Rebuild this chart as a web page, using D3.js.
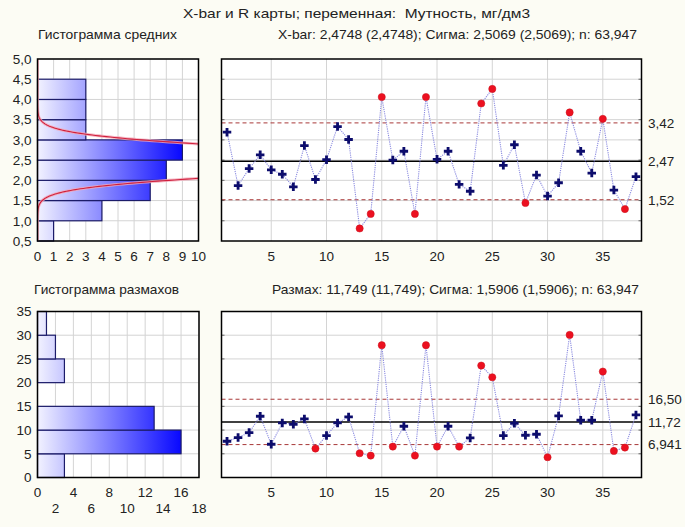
<!DOCTYPE html>
<html><head><meta charset="utf-8">
<script src="https://cdn.jsdelivr.net/npm/d3@7"></script>
<style>
html,body{margin:0;padding:0;background:#fcfcf4;}
svg{display:block;font-family:"Liberation Sans",Arial,sans-serif;}
text{white-space:pre;}
</style></head>
<body>
<svg id="c" width="685" height="527"></svg>
<script>
// ---------- DATA ----------
const sampleNumbers = d3.range(1, 39);
const xbarValues = [3.19,1.87,2.29,2.63,2.26,2.15,1.84,2.86,2.02,2.51,
                    3.33,3.01,0.81,1.17,4.06,2.50,2.72,1.17,4.06,2.52,
                    2.72,1.90,1.73,3.90,4.26,2.37,2.88,1.44,2.13,1.61,
                    1.94,3.68,2.72,2.18,3.52,1.76,1.29,2.09];
const rangeValues = [7.64,8.42,9.47,12.92,7.01,11.51,11.23,12.35,6.10,8.84,
                     11.51,12.77,5.11,4.62,27.89,6.52,10.81,4.62,27.89,6.52,
                     10.81,6.52,8.35,23.60,21.14,8.84,11.44,8.91,9.12,4.27,
                     12.99,30.07,12.07,12.07,22.34,5.60,6.31,13.20];
const xbarLimits = {lcl:1.52, cl:2.4748, ucl:3.42};
const xbarLimitLabels = ["1,52","2,47","3,42"];
const rangeLimits = {lcl:6.941, cl:11.72, ucl:16.50};
const rangeLimitLabels = ["6,941","11,72","16,50"];
const meanBinEdges = [0.5,1.0,1.5,2.0,2.5,3.0,3.5,4.0];
const meanBinCounts = [1,4,7,8,9,3,3,3];
const rangeBinEdges = [0,5,10,15,20,25,30];
const rangeBinCounts = [3,16,13,0,3,2,1];
const meanYTicks = [0.5,1.0,1.5,2.0,2.5,3.0,3.5,4.0,4.5,5.0];
const meanXTicks = [0,1,2,3,4,5,6,7,8,9,10];
const rangeYTicks = [0,5,10,15,20,25,30,35];
const rangeXTicksRow1 = [0,4,8,12,16];
const rangeXTicksRow2 = [2,6,10,14,18];
const sampleTicks = [5,10,15,20,25,30,35];
const normalFit = {mean:2.4748, sigma:0.33, n:38, binWidth:0.5};
const titleText = "X-bar и R карты; переменная:  Мутность, мг/дм3";
const histMeanTitle = "Гистограмма средних";
const histRangeTitle = "Гистограмма размахов";
const xbarStats = "X-bar: 2,4748 (2,4748); Сигма: 2,5069 (2,5069); n: 63,947";
const rangeStats = "Размах: 11,749 (11,749); Сигма: 1,5906 (1,5906); n: 63,947";

// ---------- DRAW ----------
const svg = d3.select("#c");
const fmt = v => String(v).replace(".", ",");
const fmt1 = v => v.toFixed(1).replace(".", ",");
const defs = svg.append("defs");
const GRID = "#d4d4d4";
const TXT = "#222";
const FS = 13.5;

function header(x, y, w, t){
  svg.append("text").attr("x",x).attr("y",y).attr("font-size",FS).attr("fill",TXT)
    .attr("textLength",w).attr("lengthAdjust","spacingAndGlyphs").text(t);
}
header(183, 18, 347, titleText);
header(38, 38.5, 139, histMeanTitle);
header(278, 38.5, 359, xbarStats);
header(34, 293.5, 145, histRangeTitle);
header(272, 293.5, 367, rangeStats);

function histogram(opt){
  const {x0,x1,y0,y1,xDom,yDom,edges,counts,binW,yTicks,yFmt,xGrid,id,gradMax} = opt;
  const x = d3.scaleLinear().domain(xDom).range([x0,x1]);
  const y = d3.scaleLinear().domain(yDom).range([y1,y0]);
  const g = svg.append("g");
  g.append("rect").attr("x",x0).attr("y",y0).attr("width",x1-x0).attr("height",y1-y0).attr("fill","#fff");
  g.selectAll(".vg").data(xGrid).join("line")
    .attr("x1",d=>x(d)).attr("x2",d=>x(d)).attr("y1",y0).attr("y2",y1)
    .attr("stroke",GRID).attr("stroke-width",1);
  g.selectAll(".hg").data(yTicks).join("line")
    .attr("x1",x0).attr("x2",x1).attr("y1",d=>y(d)).attr("y2",d=>y(d))
    .attr("stroke",GRID).attr("stroke-width",1);
  const grad = defs.append("linearGradient").attr("id",id).attr("gradientUnits","userSpaceOnUse")
    .attr("x1",x(0)).attr("x2",x(gradMax)).attr("y1",0).attr("y2",0);
  grad.append("stop").attr("offset","0").attr("stop-color","#f2f2ff");
  grad.append("stop").attr("offset","1").attr("stop-color","#0808ff");
  const bins = edges.map((e,i)=>({lo:e,hi:e+binW,c:counts[i]})).filter(b=>b.c>0);
  g.selectAll(".bar").data(bins).join("rect")
    .attr("x",x(0)).attr("width",d=>x(d.c)-x(0))
    .attr("y",d=>y(d.hi)).attr("height",d=>y(d.lo)-y(d.hi))
    .attr("fill",`url(#${id})`).attr("stroke","#1c1c6a").attr("stroke-width",1.2);
  g.selectAll(".yl").data(yTicks).join("text")
    .attr("x",x0-6).attr("y",d=>y(d)+4.8).attr("text-anchor","end")
    .attr("font-size",FS).attr("fill",TXT).text(yFmt);
  return {g,x,y};
}

// top histogram
const h1 = histogram({x0:37.5,x1:198.5,y0:59,y1:241,xDom:[0,10],yDom:[0.5,5.0],
  edges:meanBinEdges,counts:meanBinCounts,binW:0.5,yTicks:meanYTicks,yFmt:fmt1,
  xGrid:meanXTicks,id:"g1",gradMax:9});
h1.g.selectAll(".xl").data(meanXTicks).join("text")
  .attr("x",d=>h1.x(d)).attr("y",260.5).attr("text-anchor","middle")
  .attr("font-size",FS).attr("fill",TXT).text(d=>d);
defs.append("clipPath").attr("id","clip1").append("rect")
  .attr("x",37.5).attr("y",59).attr("width",161).attr("height",182);
const nf = normalFit;
const curveY = d3.range(0.5, 5.001, 0.01);
const dens = v => nf.n*nf.binWidth/(nf.sigma*Math.sqrt(2*Math.PI))*Math.exp(-((v-nf.mean)**2)/(2*nf.sigma*nf.sigma));
const lineN = d3.line().x(v=>h1.x(dens(v))).y(v=>h1.y(v));
const cg = h1.g.append("g").attr("clip-path","url(#clip1)");
cg.append("path").datum(curveY).attr("d",lineN).attr("fill","none").attr("stroke","#f4a8b8").attr("stroke-width",3).attr("opacity",0.8);
cg.append("path").datum(curveY).attr("d",lineN).attr("fill","none").attr("stroke","#d0203c").attr("stroke-width",1.1);
h1.g.append("rect").attr("x",37.5).attr("y",59).attr("width",161).attr("height",182)
  .attr("fill","none").attr("stroke","#000").attr("stroke-width",1.5);

// bottom histogram
const h2 = histogram({x0:37.5,x1:199,y0:311.5,y1:477.5,xDom:[0,18],yDom:[0,35],
  edges:rangeBinEdges,counts:rangeBinCounts,binW:5,yTicks:rangeYTicks,yFmt:fmt,
  xGrid:d3.range(0,19,2),id:"g2",gradMax:16});
h2.g.selectAll(".xl1").data(rangeXTicksRow1).join("text")
  .attr("x",d=>h2.x(d)).attr("y",496.5).attr("text-anchor","middle")
  .attr("font-size",FS).attr("fill",TXT).text(d=>d);
h2.g.selectAll(".xl2").data(rangeXTicksRow2).join("text")
  .attr("x",d=>h2.x(d)).attr("y",513).attr("text-anchor","middle")
  .attr("font-size",FS).attr("fill",TXT).text(d=>d);
h2.g.append("rect").attr("x",37.5).attr("y",311.5).attr("width",161.5).attr("height",166)
  .attr("fill","none").attr("stroke","#000").attr("stroke-width",1.5);

// control charts
function control(opt){
  const {x0,x1,y0,y1,yDom,yGrid,values,lim,limLabels,xLabelY} = opt;
  const x = d3.scaleLinear().domain([0.5,38.5]).range([x0,x1]);
  const y = d3.scaleLinear().domain(yDom).range([y1,y0]);
  const g = svg.append("g");
  g.append("rect").attr("x",x0).attr("y",y0).attr("width",x1-x0).attr("height",y1-y0).attr("fill","#fff");
  g.selectAll(".vg").data(sampleTicks).join("line")
    .attr("x1",d=>x(d)).attr("x2",d=>x(d)).attr("y1",y0).attr("y2",y1)
    .attr("stroke",GRID);
  g.selectAll(".hg").data(yGrid).join("line")
    .attr("x1",x0).attr("x2",x1).attr("y1",d=>y(d)).attr("y2",d=>y(d))
    .attr("stroke",GRID);
  g.selectAll(".tl").data(yGrid).join("line")
    .attr("x1",x0).attr("x2",x0+3).attr("y1",d=>y(d)).attr("y2",d=>y(d)).attr("stroke","#666");
  g.selectAll(".tr").data(yGrid).join("line")
    .attr("x1",x1-3).attr("x2",x1).attr("y1",d=>y(d)).attr("y2",d=>y(d)).attr("stroke","#666");
  [lim.lcl, lim.ucl].forEach(v=>{
    g.append("line").attr("x1",x0).attr("x2",x1).attr("y1",y(v)).attr("y2",y(v))
      .attr("stroke","#a83838").attr("stroke-width",1).attr("stroke-dasharray","4,3");
  });
  g.append("line").attr("x1",x0).attr("x2",x1).attr("y1",y(lim.cl)).attr("y2",y(lim.cl))
    .attr("stroke","#000").attr("stroke-width",1.5);
  const pts = values.map((v,i)=>({s:sampleNumbers[i],v}));
  g.append("path").datum(pts)
    .attr("d",d3.line().x(d=>x(d.s)).y(d=>y(d.v)))
    .attr("fill","none").attr("stroke","#8c8ce0").attr("stroke-width",1.1).attr("stroke-dasharray","1.2,1");
  const out = d => d.v > lim.ucl || d.v < lim.lcl;
  g.selectAll(".red").data(pts.filter(out)).join("circle")
    .attr("cx",d=>x(d.s)).attr("cy",d=>y(d.v)).attr("r",3.6)
    .attr("fill","#ec1020").attr("stroke","#c8101a").attr("stroke-width",0.5);
  g.selectAll(".blue").data(pts.filter(d=>!out(d))).join("path")
    .attr("transform",d=>`translate(${x(d.s)},${y(d.v)})`)
    .attr("d",d3.symbol(d3.symbolCross,40))
    .attr("fill","#0c0c6c");
  g.append("rect").attr("x",x0).attr("y",y0).attr("width",x1-x0).attr("height",y1-y0)
    .attr("fill","none").attr("stroke","#000").attr("stroke-width",1.5);
  g.selectAll(".xl").data(sampleTicks).join("text")
    .attr("x",d=>x(d)).attr("y",xLabelY).attr("text-anchor","middle")
    .attr("font-size",FS).attr("fill",TXT).text(d=>d);
  [lim.lcl, lim.cl, lim.ucl].forEach((v,i)=>{
    g.append("text").attr("x",x1+6.5).attr("y",y(v)+4.8)
      .attr("font-size",FS).attr("fill",TXT).text(limLabels[i]);
  });
}
control({x0:221.5,x1:641.5,y0:59,y1:241,yDom:[0.5,5.0],yGrid:d3.range(1.0,4.51,0.5),
  values:xbarValues,lim:xbarLimits,limLabels:xbarLimitLabels,xLabelY:260.5});
control({x0:221.5,x1:641.5,y0:311.5,y1:477.5,yDom:[0,35],yGrid:[5,10,15,20,25,30],
  values:rangeValues,lim:rangeLimits,limLabels:rangeLimitLabels,xLabelY:497});
</script>
</body></html>
